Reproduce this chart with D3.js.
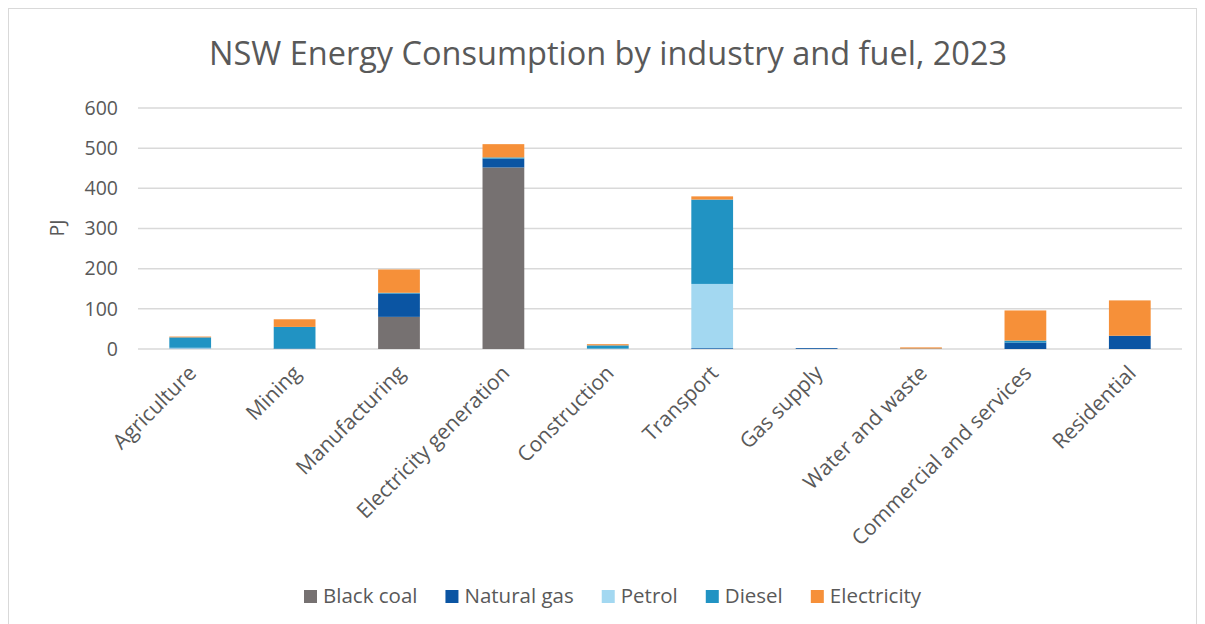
<!DOCTYPE html>
<html>
<head>
<meta charset="utf-8">
<script src="https://cdn.jsdelivr.net/npm/d3@7"></script>
<style>
  html, body { margin: 0; padding: 0; background: #fff; }
  svg { display: block; font-family: "Open Sans", sans-serif; }
</style>
</head>
<body>
<svg id="chart" width="1205" height="624"></svg>
<script>
// categories along the x axis
const categories = ['Agriculture', 'Mining', 'Manufacturing', 'Electricity generation', 'Construction',
    'Transport', 'Gas supply', 'Water and waste', 'Commercial and services', 'Residential'];

// PJ by fuel, one value per category
const blackCoal  = [0, 0, 80, 452, 0, 0, 0, 0, 0, 0];
const naturalGas = [1, 1, 58, 22, 0, 2, 2, 0.5, 16, 33];
const petrol     = [2, 0, 0, 0, 1, 160, 0, 0, 0, 0];
const diesel     = [26, 54, 2, 3, 8, 210, 0, 0.5, 5, 0];
const electricity = [2, 19, 58, 33, 3, 8, 0, 3, 75, 88];

const fuels = ['Black coal', 'Natural gas', 'Petrol', 'Diesel', 'Electricity'];
const fuelColours = ['#767171', '#0b55a3', '#a3d8f1', '#2193c3', '#f69039'];
const yTicks = [0, 100, 200, 300, 400, 500, 600];

const TEXT = '#595959';
const GRID = '#d9d9d9';

const svg = d3.select('#chart');

// outer chart frame
svg.append('rect')
    .attr('x', 8.5).attr('y', 8.5)
    .attr('width', 1188).attr('height', 620)
    .attr('fill', 'none').attr('stroke', GRID);

const rows = categories.map((c, i) => ({
    category: c,
    'Black coal': blackCoal[i],
    'Natural gas': naturalGas[i],
    'Petrol': petrol[i],
    'Diesel': diesel[i],
    'Electricity': electricity[i]
}));

const x = d3.scaleBand()
    .domain(categories)
    .range([138, 1182])
    .paddingInner(0.6)
    .paddingOuter(0.3);

const y = d3.scaleLinear()
    .domain([0, 600])
    .range([349, 108]);

const colour = d3.scaleOrdinal().domain(fuels).range(fuelColours);

// gridlines
svg.append('g')
    .selectAll('line')
    .data(yTicks)
    .join('line')
    .attr('x1', 138).attr('x2', 1182)
    .attr('y1', d => y(d)).attr('y2', d => y(d))
    .attr('stroke', GRID)
    .attr('stroke-width', 1.5);

// y axis labels
const yAxis = svg.append('g')
    .attr('transform', 'translate(118,0)')
    .call(d3.axisLeft(y).tickValues(yTicks).tickSize(0).tickPadding(0));
yAxis.select('.domain').remove();
yAxis.selectAll('text')
    .attr('fill', TEXT)
    .attr('font-size', 19.5)
    .attr('font-family', '"Open Sans", sans-serif');

svg.append('text')
    .attr('transform', 'translate(64,228) rotate(-90)')
    .attr('text-anchor', 'middle')
    .attr('fill', TEXT)
    .attr('font-size', 19.5)
    .text('PJ');

// stacked bars
const series = d3.stack().keys(fuels)(rows);

svg.append('g')
    .selectAll('g')
    .data(series)
    .join('g')
    .attr('fill', d => colour(d.key))
    .selectAll('rect')
    .data(d => d)
    .join('rect')
    .attr('x', d => x(d.data.category))
    .attr('width', x.bandwidth())
    .attr('y', d => y(d[1]))
    .attr('height', d => y(d[0]) - y(d[1]));

// x axis labels, rotated
svg.append('g')
    .selectAll('text')
    .data(categories)
    .join('text')
    .attr('transform', d => `translate(${x(d) + x.bandwidth() / 2 - 3},${364}) rotate(-45)`)
    .attr('text-anchor', 'end')
    .attr('dy', '0.7em')
    .attr('fill', TEXT)
    .attr('font-size', 21)
    .text(d => d);

// title
svg.append('text')
    .attr('x', 608)
    .attr('y', 65)
    .attr('text-anchor', 'middle')
    .attr('fill', TEXT)
    .attr('font-size', 32.5)
    .text('NSW Energy Consumption by industry and fuel, 2023');

// legend
const legend = svg.append('g');
let lx = 304;
fuels.forEach((f, i) => {
    const item = legend.append('g').attr('transform', `translate(${lx},0)`);
    item.append('rect')
        .attr('x', 0).attr('y', 590)
        .attr('width', 13).attr('height', 13)
        .attr('fill', fuelColours[i]);
    const t = item.append('text')
        .attr('x', 19).attr('y', 603)
        .attr('fill', TEXT)
        .attr('font-size', 20.5)
        .text(f);
    lx += 19 + t.node().getComputedTextLength() + 28;
});
</script>
</body>
</html>
